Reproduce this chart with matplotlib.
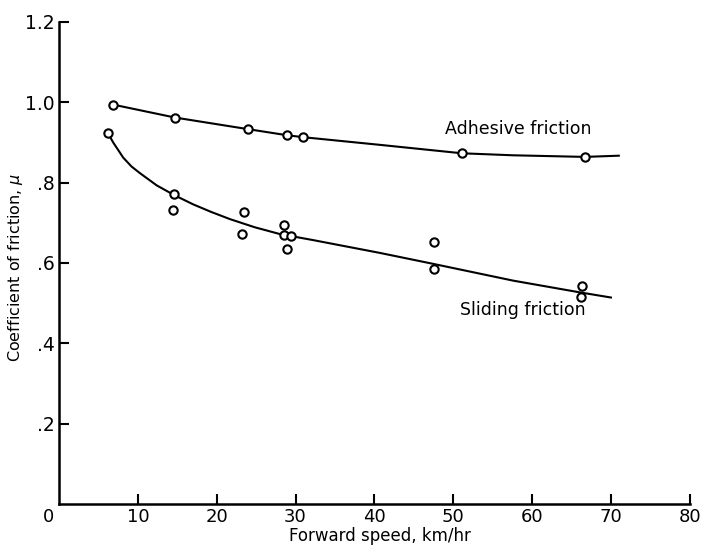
import matplotlib
matplotlib.use('Agg')
import matplotlib.pyplot as plt
from matplotlib.transforms import ScaledTranslation

# Measured points (forward speed km/hr, coefficient of friction)
adhesive_speed = [6.9, 14.7, 24.0, 28.9, 31.0, 51.1, 66.7]
adhesive_mu = [0.994, 0.962, 0.933, 0.918, 0.913, 0.873, 0.864]

sliding_speed = [6.2, 14.6, 14.4, 23.4, 23.2, 28.5, 28.5, 29.4, 28.9, 47.6, 47.6, 66.3, 66.2]
sliding_mu = [0.923, 0.772, 0.731, 0.727, 0.673, 0.694, 0.669, 0.666, 0.635, 0.653, 0.584, 0.542, 0.515]

# Hand-fitted curves through the data
adhesive_fit_x = [6.9, 14.7, 24.0, 28.9, 31.0, 40.7, 51.1, 57.6, 66.7, 71.0]
adhesive_fit_y = [0.994, 0.962, 0.933, 0.918, 0.913, 0.894, 0.873, 0.868, 0.864, 0.867]

sliding_fit_x = [6.2, 6.9, 8.15, 9.2, 10.3, 12.4, 14.6, 17.0, 19.3, 21.7, 24.8, 28.0, 32.2,
                 40.7, 47.4, 57.6, 66.0, 70.0]
sliding_fit_y = [0.923, 0.899, 0.862, 0.840, 0.823, 0.793, 0.769, 0.746, 0.727, 0.709, 0.689, 0.672, 0.657,
                 0.625, 0.598, 0.556, 0.527, 0.514]

x_ticks = [0, 10, 20, 30, 40, 50, 60, 70, 80]
y_ticks = [0.2, 0.4, 0.6, 0.8, 1.0, 1.2]
y_tick_labels = ['.2', '.4', '.6', '.8', '1.0', '1.2']

plt.rcParams['font.family'] = ['DejaVu Sans']

fig = plt.figure(figsize=(7.06, 5.48), dpi=100)
ax = fig.add_axes([0.0836, 0.0803, 0.8934, 0.8797])

ax.plot(adhesive_fit_x, adhesive_fit_y, color='black', linewidth=1.5)
ax.plot(sliding_fit_x, sliding_fit_y, color='black', linewidth=1.5)
ax.plot(adhesive_speed, adhesive_mu, 'o', markersize=6, markerfacecolor='white',
        markeredgecolor='black', markeredgewidth=1.5)
ax.plot(sliding_speed, sliding_mu, 'o', markersize=6, markerfacecolor='white',
        markeredgecolor='black', markeredgewidth=1.5)

ax.text(48.9, 0.933, 'Adhesive friction', fontsize=12.5, va='center', ha='left')
ax.text(50.8, 0.484, 'Sliding friction', fontsize=12.5, va='center', ha='left')

ax.set_xlim(0, 80)
ax.set_ylim(0, 1.2)
ax.set_xticks(x_ticks)
ax.set_yticks(y_ticks)
ax.set_yticklabels(y_tick_labels)
ax.tick_params(direction='in', length=7, width=1.5)
ax.tick_params(axis='x', labelsize=13, pad=3)
ax.tick_params(axis='y', labelsize=13.5, pad=3)

# the origin label sits left of the corner
first = ax.get_xticklabels()[0]
first.set_transform(first.get_transform() + ScaledTranslation(-0.11, 0, fig.dpi_scale_trans))
ax.xaxis.get_major_ticks()[0].tick1line.set_visible(False)

for side in ['top', 'right']:
    ax.spines[side].set_visible(False)
for side in ['left', 'bottom']:
    ax.spines[side].set_linewidth(1.8)

ax.set_xlabel('Forward speed, km/hr', fontsize=12)
ax.xaxis.set_label_coords(0.509, -0.047)
ax.set_ylabel('Coefficient of friction, $\\mu$', fontsize=11.5)
ax.yaxis.set_label_coords(-0.054, 0.49)

fig.savefig('out.png', dpi=100)
